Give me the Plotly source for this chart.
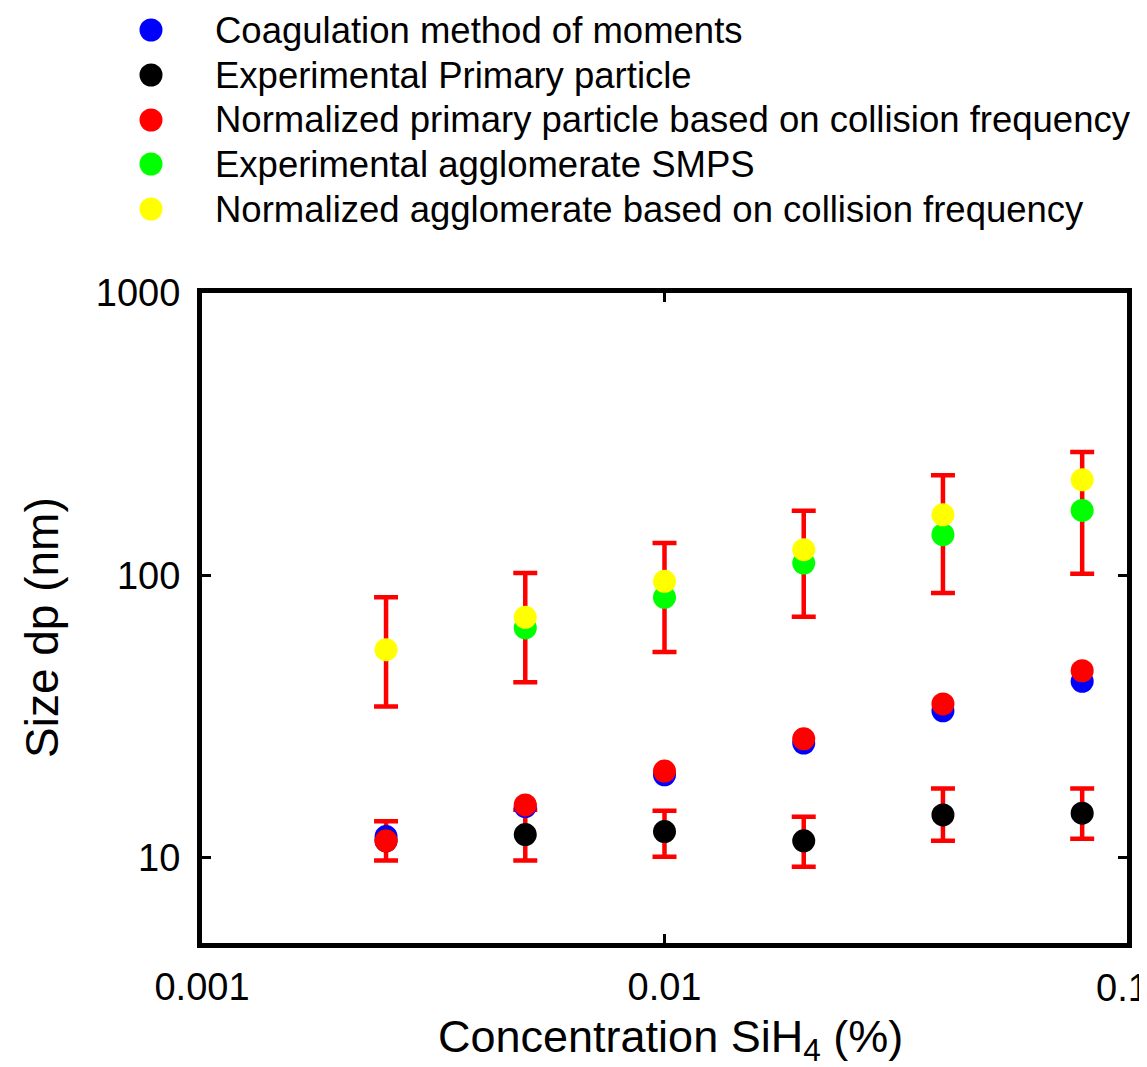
import math
import plotly.graph_objects as go

conc = [0.0025, 0.005, 0.01, 0.02, 0.04, 0.08]

coag_mom = [11.9, 15.2, 19.7, 25.5, 33.2, 42.2]
exp_primary = [11.5, 12.1, 12.4, 11.5, 14.2, 14.4]
exp_primary_hi = [13.5, 14.8, 14.7, 14.0, 17.6, 17.6]
exp_primary_lo = [9.8, 9.8, 10.1, 9.3, 11.5, 11.7]
norm_primary = [11.5, 15.4, 20.3, 26.4, 35.1, 46.0]
exp_agglom = [None, 65.2, 83.7, 110.7, 139.5, 170.0]
norm_agglom = [54.6, 71.1, 95.4, 123.4, 164.0, 218.0]
norm_agglom_hi = [83.7, 102.0, 130.3, 169.6, 226.3, 273.7]
norm_agglom_lo = [34.4, 41.9, 53.6, 71.5, 86.7, 101.5]

names = [
    "Coagulation method of moments",
    "Experimental Primary particle",
    "Normalized primary particle based on collision frequency",
    "Experimental agglomerate SMPS",
    "Normalized agglomerate based on collision frequency",
]
colors = ["#0000ff", "#000000", "#ff0000", "#00ff00", "#ffff00"]

x_ticks = [0.001, 0.01, 0.1]
x_ticktext = ["0.001", "0.01", "0.1"]
y_ticks = [10, 100, 1000]
y_ticktext = ["10", "100", "1000"]

FONT = "Liberation Sans, Arial, sans-serif"
MS = 23

W_FIG, H_FIG = 1147, 1067
L, R, T, B = 194, 28, 285, 132
PW, PH = W_FIG - L - R, H_FIG - T - B


def px(xp):
    return (xp - L) / PW


def py(yp):
    return 1 - (yp - T) / PH


fig = go.Figure()


def err_trace(y, hi, lo):
    return go.Scatter(
        x=conc, y=y, mode="markers",
        marker=dict(size=1, color="rgba(0,0,0,0)"),
        error_y=dict(type="data", symmetric=False,
                     array=[h - v for h, v in zip(hi, y)],
                     arrayminus=[v - l for v, l in zip(y, lo)],
                     color="#ff0000", thickness=4.5, width=12),
        showlegend=False, hoverinfo="skip",
    )


fig.add_trace(err_trace(exp_primary, exp_primary_hi, exp_primary_lo))
fig.add_trace(err_trace(norm_agglom, norm_agglom_hi, norm_agglom_lo))

series = [coag_mom, exp_primary, norm_primary, exp_agglom, norm_agglom]
for name, col, ys in zip(names, colors, series):
    fig.add_trace(go.Scatter(
        x=conc, y=ys, mode="markers", name=name, showlegend=False,
        marker=dict(size=MS, color=col, line=dict(width=0)),
    ))

axis_common = dict(
    type="log", showline=True, linecolor="black", linewidth=5, mirror="allticks",
    ticks="inside", ticklen=9, tickwidth=3, tickcolor="black",
    showgrid=False, zeroline=False,
    tickfont=dict(family=FONT, size=38, color="black"),
)

# the last x label sits at the page edge, so it is placed as an annotation
fig.update_xaxes(**axis_common, range=[math.log10(0.001), math.log10(0.1)],
                 tickvals=x_ticks, ticktext=x_ticktext[:-1] + [""],
                 ticklabelstandoff=6, ticklabeloverflow="allow")
fig.update_yaxes(**axis_common, range=[math.log10(5), math.log10(1000)],
                 tickvals=y_ticks, ticktext=y_ticktext, ticklabelstandoff=9,
                 ticklabeloverflow="allow")

annotations = []
shapes = []

annotations.append(dict(
    xref="paper", yref="paper", x=px(1143), y=py(980),
    xanchor="right", yanchor="middle", showarrow=False, text=x_ticktext[-1],
    font=dict(family=FONT, size=38, color="black"),
))

# legend drawn by hand (dot + label)
leg_rows = [22, 67, 112, 156, 201]
for name, col, yrow in zip(names, colors, leg_rows):
    annotations.append(dict(
        xref="paper", yref="paper", x=px(205), y=py(yrow),
        xanchor="left", yanchor="middle", showarrow=False, text=name,
        font=dict(family=FONT, size=36.5, color="black"),
    ))
    shapes.append(dict(
        type="circle", xref="paper", yref="paper",
        xsizemode="pixel", ysizemode="pixel",
        xanchor=px(143), yanchor=py(yrow),
        x0=-11.5, x1=11.5, y0=-11.5, y1=11.5,
        fillcolor=col, line=dict(width=0), layer="above",
    ))

# axis titles
annotations.append(dict(
    xref="paper", yref="paper", x=px(662), y=py(1031),
    xanchor="center", yanchor="middle", showarrow=False,
    text="Concentration SiH<sub>4</sub> (%)",
    font=dict(family=FONT, size=45, color="black"),
))
annotations.append(dict(
    xref="paper", yref="paper", x=px(34), y=py(620),
    xanchor="center", yanchor="middle", showarrow=False, textangle=-90,
    text="Size dp (nm)",
    font=dict(family=FONT, size=46, color="black"),
))

fig.update_layout(
    width=W_FIG, height=H_FIG,
    paper_bgcolor="white", plot_bgcolor="white",
    margin=dict(l=L, r=R, t=T, b=B, autoexpand=False),
    font=dict(family=FONT, color="black"),
    showlegend=False,
    annotations=annotations,
    shapes=shapes,
)

fig.write_html("out.html")
